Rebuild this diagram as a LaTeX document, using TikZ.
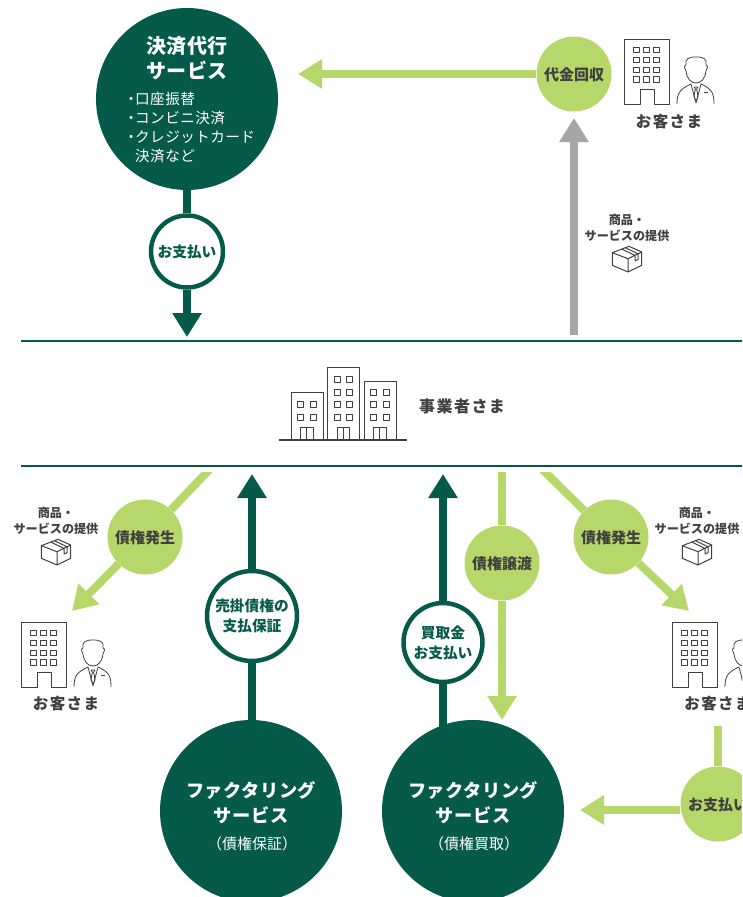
\documentclass[tikz,border=0pt]{standalone}
\usepackage{fontspec}
\setmainfont{Noto Sans CJK JP}
\newfontfamily\jpwide[LetterSpace=9]{Noto Sans CJK JP}
\newfontfamily\jpmid[LetterSpace=3]{Noto Sans CJK JP}
\usetikzlibrary{arrows.meta}
\definecolor{dkgreen}{HTML}{055A4A}
\definecolor{ltgreen}{HTML}{B6D76A}
\definecolor{txtgray}{HTML}{404040}
\definecolor{arrowgray}{HTML}{A5A6A5}
\tikzset{
  x=1pt,y=-1pt,
  bigcirc/.style={circle,fill=dkgreen,text=white,minimum size=182pt,inner sep=0pt,font=\bfseries},
  ltcirc/.style={circle,fill=ltgreen,text=txtgray,minimum size=75pt,inner sep=0pt,align=center,text height=15pt,text depth=1.8pt,font=\fontsize{15}{18}\selectfont\bfseries},
  whcirc/.style={circle,fill=white,draw=dkgreen,line width=4.5pt,text=dkgreen,inner sep=0pt,align=center,font=\fontsize{14.7}{20}\selectfont\bfseries},
  dkline/.style={draw=dkgreen,line width=8pt},
  ltline/.style={draw=ltgreen,line width=8pt},
  dkarrow/.style={dkline,-{Triangle[length=24pt,width=28pt]}},
  ltarrow/.style={ltline,-{Triangle[length=24pt,width=28pt]}},
  grarrow/.style={draw=arrowgray,line width=8pt,-{Triangle[length=24pt,width=28pt]}},
  rule/.style={draw=dkgreen,line width=2pt},
  icon/.style={draw=txtgray,line width=1pt,line join=round},
  whname/.style={text=txtgray,font=\jpwide\fontsize{15.5}{18}\selectfont\bfseries},
  offer/.style={text=txtgray,align=center,font=\fontsize{12.1}{16}\selectfont\bfseries},
  svctitle/.style={text=white,align=center,font=\jpmid\fontsize{18.2}{25}\selectfont\bfseries},
  svcnote/.style={text=white,font=\jpmid\fontsize{14.6}{19}\selectfont},
}
\newcommand{\officeicon}[2]{%
  \begin{scope}[shift={(#1,#2)}]
    \draw[icon] (16,65) -- (0,65) -- (0,0) -- (45,0) -- (45,65) -- (30,65) -- (30,50) -- (16,50) -- cycle;
    \foreach \wx in {9.5,19.5,29.5}\foreach \wy in {8,18,28,37.5}
      \draw[icon,line width=.9pt] (\wx,\wy) rectangle ++(5.5,5.5);
    % person
    \draw[icon,line width=.8pt] (62,32) .. controls (63,40) and (67,44) .. (72,44) .. controls (77,44) and (81,40) .. (82,32)
       .. controls (84,30) and (84,26) .. (82,26) .. controls (83,20) and (80,18) .. (72,18) .. controls (64,18) and (61,20) .. (62,26) .. controls (60,26) and (60,30) .. (62,32);
    \draw[icon,line width=.8pt] (53,65) .. controls (53,54) and (56,50) .. (67,45) -- (72,64) -- (77,45) .. controls (88,50) and (90,54) .. (90,65);
    \draw[icon,line width=.8pt] (70,48) -- (72,51) -- (74,48) -- cycle (71,51) -- (70,58) -- (72,62) -- (74,58) -- (73,51);
    \draw[icon,line width=.8pt] (80,53) -- (84,53);
  \end{scope}}
\newcommand{\boxicon}[2]{%
  \begin{scope}[shift={(#1,#2)}]
    \draw[icon] (-14.7,-6.3) -- (2,-12.7) -- (14.7,-7) -- (1,-.3) -- cycle
      (-14.7,-6.3) -- (-14.7,6.3) -- (1,13) -- (14.7,6.3) -- (14.7,-7) (1,-.3) -- (1,13)
      (-5,-9.8) -- (8,-3.6) -- (8,2) -- (11,.6) -- (11,-5.3) -- (-1.5,-11.2);
  \end{scope}}
\begin{document}
\begin{tikzpicture}
\useasboundingbox (0,0) rectangle (742,897);
\clip (0,0) rectangle (742,897);
% free connector ends
\coordinate (payend) at (187,337);
\coordinate (offerbase) at (574,335);
\coordinate (leftstart) at (215.7,463);
\coordinate (leftend) at (72,611);
\coordinate (rightstart) at (535.9,463);
\coordinate (rightend) at (689,611);
\coordinate (guarend) at (252,474);
\coordinate (buyend) at (443,474);
\coordinate (assignstart) at (502,472);
\coordinate (assignend) at (502,720);
\coordinate (custstart) at (718,726);
\coordinate (payleft) at (580,810);
\coordinate (collectend) at (298,74);
\coordinate (grayend) at (574,118);
\coordinate (ruleTopL) at (21,341);
\coordinate (ruleTopR) at (742,341);
\coordinate (ruleBotL) at (21,466);
\coordinate (ruleBotR) at (742,466);
% rules
\draw[rule] (ruleTopL) -- (ruleTopR);
\draw[rule] (ruleBotL) -- (ruleBotR);
% circles
\node[bigcirc] (settle) at (187,99) {};
\node[svctitle,font=\jpmid\fontsize{20}{25}\selectfont\bfseries] (settletitle) at (187,58.5) {決済代行\\サービス};
\node[svcnote,anchor=north west,inner sep=0pt,align=left] (settlelist) at (127,92) {\makebox[8pt]{・}口座振替\\\makebox[8pt]{・}コンビニ決済\\\makebox[8pt]{・}クレジットカード\\\makebox[8pt]{}決済など};
\node[whcirc,minimum size=72pt] (pay1) at (187,251.5) {お支払い};
\node[ltcirc] (collect) at (574,74) {代金回収};
\node[ltcirc] (debtL) at (145,537) {債権発生};
\node[ltcirc] (debtR) at (611,537) {債権発生};
\node[ltcirc] (assign) at (502,563) {債権譲渡};
\node[ltcirc] (pay2) at (718,804) {お支払い};
\node[whcirc,minimum size=90pt] (guar) at (252,616) {売掛債権の\\支払保証};
\node[whcirc,minimum size=79pt] (buy) at (443,642.5) {買取金\\お支払い};
\node[bigcirc] (factA) at (251,811) {};
\node[bigcirc] (factB) at (473,811) {};
\node[svctitle] (factAt) at (251,802.5) {ファクタリング\\サービス};
\node[svctitle] (factBt) at (473,802.5) {ファクタリング\\サービス};
\node[text=white,font=\fontsize{15}{18}\selectfont] (factAs) at (252,844) {（債権保証）};
\node[text=white,font=\fontsize{15}{18}\selectfont] (factBs) at (474,844) {（債権買取）};
% connectors
\draw[dkline] (settle) -- (pay1);
\draw[dkarrow] (pay1) -- (payend);
\draw[ltarrow] (collect) -- (collectend);
\draw[grarrow] (offerbase) -- (grayend);
\begin{scope}
  \clip (0,472) rectangle (742,897);
  \draw[ltline] (leftstart) -- (debtL);
  \draw[ltline] (rightstart) -- (debtR);
\end{scope}
\draw[ltarrow] (debtL) -- (leftend);
\draw[ltarrow] (debtR) -- (rightend);
\draw[ltline] (assignstart) -- (assign);
\draw[ltarrow] (assign) -- (assignend);
\draw[ltline] (custstart) -- (pay2);
\draw[ltarrow] (pay2.west |- payleft) -- (payleft);
\draw[dkline] (factA.north -| guar) -- (guar);
\draw[dkarrow] (guar) -- (guarend);
\path (buy.south) -- ++(0,50) coordinate (buybase);
\draw[dkline] (buybase) -- (buy);
\draw[dkarrow] (buy) -- (buyend);
% building
\draw[txtgray,line width=2pt] (279,440) coordinate (gl) -- (407,440);
\draw[icon] (291,440) -- (291,392) -- (323,392) -- (323,440);
\draw[icon] (327,440) -- (327,367) -- (359,367) -- (359,440);
\draw[icon] (364,440) -- (364,381) -- (396,381) -- (396,440);
\foreach \bx/\rows in {297/{404,417},310/{404,417},334/{379,392,404,417},346/{379,392,404,417},370/{392,404,417},383/{392,404,417}}
  \foreach \by in \rows \draw[icon] (\bx,\by-3) rectangle ++(6.5,6.5);
\foreach \dx in {300.5,337,373.5}
  \draw[icon] (\dx,440) -- (\dx,427) -- (\dx+12.5,427) -- (\dx+12.5,440) (\dx+6.2,427) -- (\dx+6.2,440);
\node[whname,font=\jpwide\fontsize{16}{18}\selectfont\bfseries,anchor=west,inner sep=0pt] (biz) at (419,406) {事業者さま};
% customers
\officeicon{624}{39}
\officeicon{21}{622}
\officeicon{672}{622}
\node[whname] (custA) at (669,122) {お客さま};
\node[whname] (custB) at (66,704) {お客さま};
\node[whname] (custC) at (717.5,704) {お客さま};
% offers
\node[offer] (offerA) at (627,228) {商品・\\サービスの提供};
\node[offer] (offerB) at (56,521) {商品・\\サービスの提供};
\node[offer] (offerC) at (697,521) {商品・\\サービスの提供};
\boxicon{627}{259}
\boxicon{56}{552}
\boxicon{697}{552}
\end{tikzpicture}
\end{document}
